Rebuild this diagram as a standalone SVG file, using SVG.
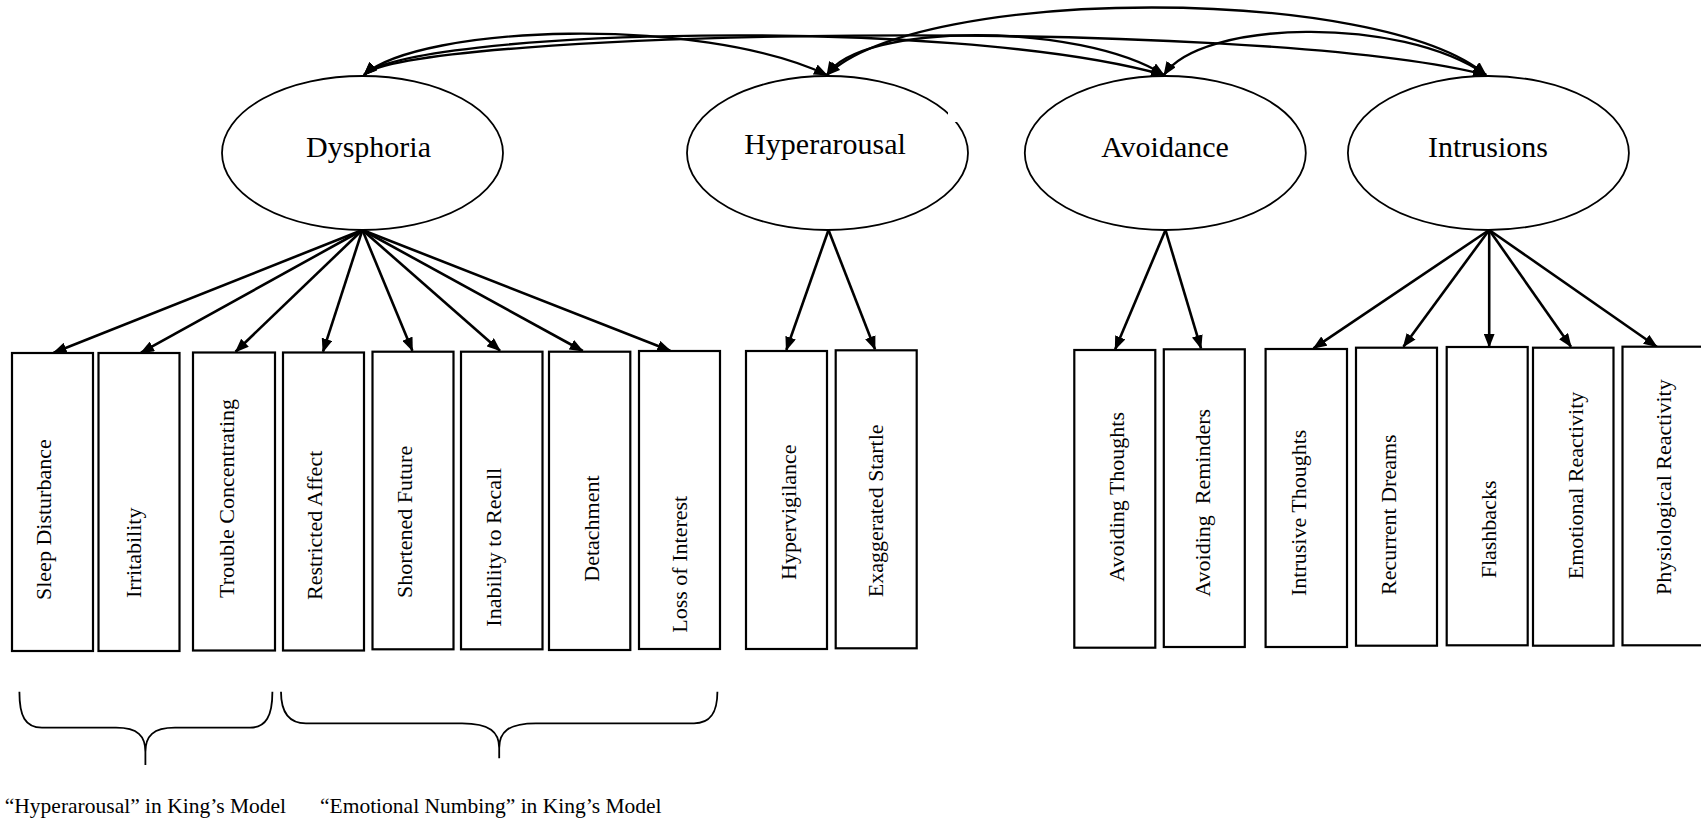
<svg xmlns="http://www.w3.org/2000/svg" width="1701" height="822" viewBox="0 0 1701 822">
<style>
.ell{fill:#fff;stroke:#000;stroke-width:1.8}
.box{fill:#fff;stroke:#000;stroke-width:2.2}
.lbl{font-family:"Liberation Serif","Times New Roman",serif;font-size:30px;fill:#000;text-anchor:middle}
.vt{font-family:"Liberation Serif","Times New Roman",serif;font-size:22px;fill:#000}
.cap{font-family:"Liberation Serif","Times New Roman",serif;font-size:21.5px;fill:#000}
.arr{fill:none;stroke:#000;stroke-width:2.6;marker-end:url(#ah)}
.cov{fill:none;stroke:#000;stroke-width:2.4;marker-end:url(#ah);marker-start:url(#ah)}
.brace{fill:none;stroke:#000;stroke-width:1.8}
</style>
<defs>
<marker id="ah" viewBox="0 0 14 11" refX="13" refY="5.5" markerWidth="14" markerHeight="11" markerUnits="userSpaceOnUse" orient="auto-start-reverse">
<path d="M0,0 L14,5.5 L0,11 z" fill="#000"/>
</marker>
</defs>
<rect width="1701" height="822" fill="#fff"/>

<g id="connectors">
<path class="cov" d="M364,75 C420,25 700,15 827,75"/>
<path class="cov" d="M364,75 C410,30 950,15 1164,75"/>
<path class="cov" d="M364,75 C410,30 1250,15 1486,75"/>
<path class="cov" d="M827,75 C860,22 1080,22 1164,75"/>
<path class="cov" d="M827,75 C920,-15 1380,-15 1486,75"/>
<path class="cov" d="M1164,75 C1200,20 1400,15 1486,75"/>

<line class="arr" x1="362.4" y1="230" x2="53.6" y2="352.7"/>
<line class="arr" x1="362.4" y1="230" x2="141" y2="352.7"/>
<line class="arr" x1="362.4" y1="230" x2="235.6" y2="351.7"/>
<line class="arr" x1="362.4" y1="230" x2="323" y2="351.7"/>
<line class="arr" x1="362.4" y1="230" x2="412.4" y2="350.7"/>
<line class="arr" x1="362.4" y1="230" x2="500" y2="350.7"/>
<line class="arr" x1="362.4" y1="230" x2="582.8" y2="351"/>
<line class="arr" x1="362.4" y1="230" x2="670.3" y2="350.7"/>
<line class="arr" x1="828.5" y1="230" x2="786.3" y2="350"/>
<line class="arr" x1="828.5" y1="230" x2="875" y2="349.3"/>
<line class="arr" x1="1165.5" y1="230" x2="1115.2" y2="349.3"/>
<line class="arr" x1="1165.5" y1="230" x2="1201" y2="348.3"/>
<line class="arr" x1="1489.2" y1="230" x2="1313.5" y2="348.3"/>
<line class="arr" x1="1489.2" y1="230" x2="1403.4" y2="346.7"/>
<line class="arr" x1="1489.2" y1="230" x2="1489.2" y2="346.7"/>
<line class="arr" x1="1489.2" y1="230" x2="1571" y2="346.7"/>
<line class="arr" x1="1489.2" y1="230" x2="1656.8" y2="346.7"/>
</g>

<g id="dysphoria">
<ellipse class="ell" cx="362.5" cy="153" rx="140.5" ry="77"/>
<text class="lbl" x="368.5" y="157">Dysphoria</text>
</g>
<g id="hyperarousal">
<ellipse class="ell" cx="827.5" cy="153" rx="140.5" ry="77"/>
<rect x="948" y="112" width="10" height="10" fill="#fff"/>
<text class="lbl" x="825" y="154">Hyperarousal</text>
</g>
<g id="avoidance">
<ellipse class="ell" cx="1165.3" cy="153" rx="140.5" ry="77"/>
<text class="lbl" x="1165" y="157">Avoidance</text>
</g>
<g id="intrusions">
<ellipse class="ell" cx="1488.4" cy="153" rx="140.5" ry="77"/>
<text class="lbl" x="1488" y="157">Intrusions</text>
</g>

<g id="sleep-disturbance"><rect class="box" x="12" y="353" width="81" height="298"/><text class="vt" transform="translate(51.4,600) rotate(-90)">Sleep Disturbance</text></g>
<g id="irritability"><rect class="box" x="98.5" y="353" width="81" height="298"/><text class="vt" transform="translate(140.7,598) rotate(-90)">Irritability</text></g>
<g id="trouble-concentrating"><rect class="box" x="193" y="352.5" width="82" height="298"/><text class="vt" transform="translate(233.5,598) rotate(-90)">Trouble Concentrating</text></g>
<g id="restricted-affect"><rect class="box" x="283" y="352.5" width="81" height="298"/><text class="vt" transform="translate(321.8,600) rotate(-90)">Restricted Affect</text></g>
<g id="shortened-future"><rect class="box" x="372.5" y="351.7" width="81" height="297.6"/><text class="vt" transform="translate(412,598) rotate(-90)">Shortened Future</text></g>
<g id="inability-to-recall"><rect class="box" x="461" y="351.7" width="81.5" height="297.6"/><text class="vt" transform="translate(501.2,626.7) rotate(-90)">Inability to Recall</text></g>
<g id="detachment"><rect class="box" x="549" y="351.7" width="81.3" height="298.3"/><text class="vt" transform="translate(599.3,581.7) rotate(-90)">Detachment</text></g>
<g id="loss-of-interest"><rect class="box" x="639" y="351" width="81" height="298"/><text class="vt" transform="translate(686.7,632.7) rotate(-90)">Loss of Interest</text></g>
<g id="hypervigilance"><rect class="box" x="746" y="351" width="81" height="298"/><text class="vt" transform="translate(795.6,580) rotate(-90)">Hypervigilance</text></g>
<g id="exaggerated-startle"><rect class="box" x="835.7" y="350.3" width="81" height="298"/><text class="vt" transform="translate(883,597.3) rotate(-90)">Exaggerated Startle</text></g>
<g id="avoiding-thoughts"><rect class="box" x="1074.3" y="350" width="81" height="297.7"/><text class="vt" transform="translate(1124.3,581.7) rotate(-90)">Avoiding Thoughts</text></g>
<g id="avoiding-reminders"><rect class="box" x="1163.8" y="349.3" width="81" height="297.7"/><text class="vt" xml:space="preserve" transform="translate(1210,596.7) rotate(-90)">Avoiding  Reminders</text></g>
<g id="intrusive-thoughts"><rect class="box" x="1265.6" y="349" width="81.4" height="298"/><text class="vt" transform="translate(1306.2,596) rotate(-90)">Intrusive Thoughts</text></g>
<g id="recurrent-dreams"><rect class="box" x="1356" y="347.7" width="81" height="298"/><text class="vt" transform="translate(1396,595) rotate(-90)">Recurrent Dreams</text></g>
<g id="flashbacks"><rect class="box" x="1446.7" y="347" width="81" height="298.3"/><text class="vt" transform="translate(1496.3,578.3) rotate(-90)">Flashbacks</text></g>
<g id="emotional-reactivity"><rect class="box" x="1533" y="347.7" width="80.5" height="298"/><text class="vt" transform="translate(1583,579.3) rotate(-90)">Emotional Reactivity</text></g>
<g id="physiological-reactivity"><rect class="box" x="1622.5" y="346.7" width="81" height="298.6"/><text class="vt" transform="translate(1670.8,595) rotate(-90)">Physiological Reactivity</text></g>

<g id="brace-hyperarousal">
<path class="brace" d="M19.4,691.7 C19.4,716 25,727.7 42,727.7 L116,727.7 C138,727.7 145.4,736 145.4,752 L145.4,765 M145.4,752 C145.4,736 153,727.7 175,727.7 L250,727.7 C266,727.7 272.4,716 272.4,691.7"/>
<text class="cap" x="4.8" y="813">“Hyperarousal” in King’s Model</text>
</g>
<g id="brace-numbing">
<path class="brace" d="M281,691.7 C281,712 289,723.3 306,723.3 L462,723.3 C490,723.3 499.2,732 499.2,748 L499.2,758.3 M499.2,748 C499.2,732 508,723.3 536,723.3 L694,723.3 C711,723.3 717.4,712 717.4,691.7"/>
<text class="cap" x="320" y="813">“Emotional Numbing” in King’s Model</text>
</g>
</svg>
